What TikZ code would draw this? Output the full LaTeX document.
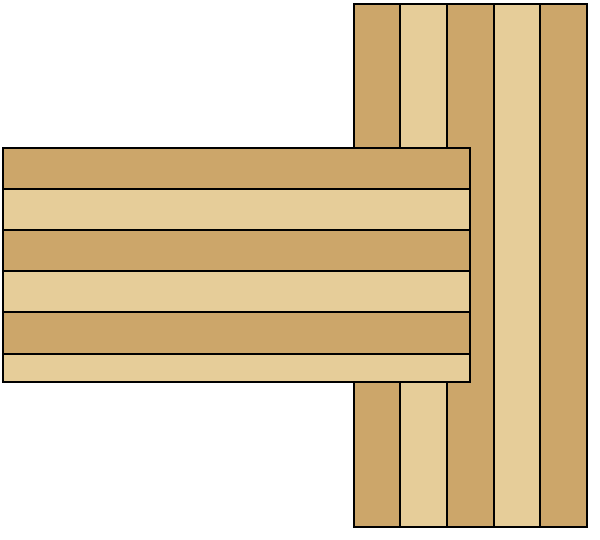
\documentclass[tikz,border=0pt]{standalone}
\definecolor{plankdark}{RGB}{204,166,106}
\definecolor{planklight}{RGB}{230,205,153}
\tikzset{plank/.style={draw=black, line width=2pt, line join=miter}}
\begin{document}
\begin{tikzpicture}[x=1pt,y=-1pt]
\useasboundingbox (0,0) rectangle (600,540);
% vertical planks
\foreach \i/\c in {0/plankdark,1/planklight,2/plankdark,3/planklight,4/plankdark}{
  \pgfmathsetmacro{\xa}{353.5+46.7*\i}
  \pgfmathsetmacro{\xb}{353.5+46.7*(\i+1)}
  \filldraw[plank, fill=\c] (\xa,4) rectangle (\xb,526.5);
}
% horizontal planks
\foreach \i/\c in {0/plankdark,1/planklight,2/plankdark,3/planklight,4/plankdark}{
  \pgfmathsetmacro{\ya}{148.3+41.04*\i}
  \pgfmathsetmacro{\yb}{148.3+41.04*(\i+1)}
  \filldraw[plank, fill=\c] (3,\ya) rectangle (470,\yb);
}
\filldraw[plank, fill=planklight] (3,353.5) rectangle (470,381.5);
\draw[plank] (3,148.3) rectangle (470,381.5);
\end{tikzpicture}
\end{document}
